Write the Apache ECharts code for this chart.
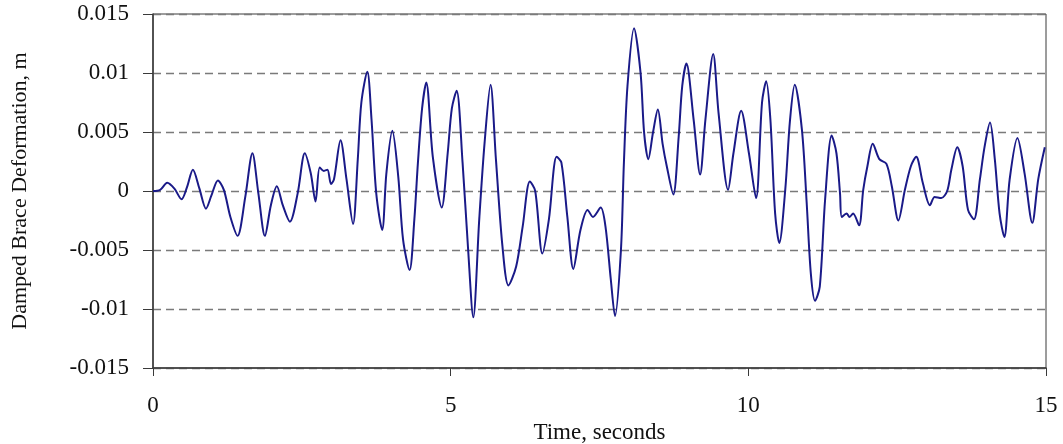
<!DOCTYPE html>
<html>
<head>
<meta charset="utf-8">
<script src="https://cdn.jsdelivr.net/npm/echarts@6/dist/echarts.min.js"></script>
<style>
  html, body { margin: 0; padding: 0; background: #fff; }
  #chart { width: 1063px; height: 444px; }
</style>
</head>
<body>
<div id="chart"></div>
<script>
// time (s) and damped brace deformation (m)
const timeSec = [
  0.00, 0.12, 0.24, 0.36, 0.48, 0.57, 0.67, 0.78, 0.89, 0.98,
  1.09, 1.19, 1.30, 1.42, 1.55, 1.67, 1.77, 1.88, 1.98, 2.08,
  2.18, 2.30, 2.43, 2.55, 2.65, 2.73, 2.80, 2.87, 2.93, 2.99,
  3.04, 3.15, 3.25, 3.36, 3.44, 3.50, 3.60, 3.67, 3.75, 3.85,
  3.92, 4.02, 4.12, 4.20, 4.31, 4.39, 4.45, 4.52, 4.59, 4.70,
  4.85, 4.95, 5.02, 5.10, 5.20, 5.29, 5.38, 5.48, 5.57, 5.67,
  5.76, 5.87, 5.97, 6.10, 6.21, 6.33, 6.42, 6.54, 6.65, 6.78,
  6.86, 6.96, 7.06, 7.18, 7.30, 7.39, 7.52, 7.60, 7.69, 7.76,
  7.86, 7.91, 7.97, 8.08, 8.19, 8.25, 8.32, 8.40, 8.48, 8.56,
  8.63, 8.74, 8.83, 8.89, 8.96, 9.08, 9.19, 9.28, 9.41, 9.50,
  9.66, 9.75, 9.88, 10.01, 10.13, 10.23, 10.30, 10.37, 10.45, 10.52,
  10.62, 10.70, 10.78, 10.90, 10.98, 11.05, 11.12, 11.20, 11.29, 11.40,
  11.48, 11.54, 11.57, 11.65, 11.70, 11.76, 11.86, 11.93, 12.00, 12.09,
  12.20, 12.32, 12.41, 12.52, 12.63, 12.73, 12.82, 12.93, 13.05, 13.13,
  13.24, 13.34, 13.41, 13.51, 13.60, 13.69, 13.79, 13.89, 13.97, 14.06,
  14.14, 14.22, 14.30, 14.39, 14.52, 14.64, 14.77, 14.87, 14.98
]
const deformation = [
  0, 0.0001, 0.0007, 0.0002, -0.0007, 0.0003, 0.0018, 0.0002, -0.0015, -0.0004,
  0.0009, 0.0001, -0.0022, -0.0038, -0.0005, 0.0032, -0.0002, -0.0038, -0.0012, 0.0004,
  -0.0012, -0.0026, -0.0002, 0.0032, 0.0015, -0.0009, 0.0020, 0.0017, 0.0018, 0.0006,
  0.0010, 0.0043, 0.0010, -0.0028, 0.0027, 0.0075, 0.0101, 0.0061, -0.0002, -0.0033,
  0.0015, 0.0051, 0.0012, -0.0041, -0.0067, -0.0024, 0.0024, 0.0070, 0.0092, 0.0029,
  -0.0014, 0.0032, 0.0070, 0.0085, 0.0024, -0.0047, -0.0107, -0.0024, 0.0041, 0.0090,
  0.0027, -0.0047, -0.0080, -0.0064, -0.0030, 0.0008, 0.0000, -0.0053, -0.0024, 0.0029,
  0.0024, -0.0022, -0.0066, -0.0033, -0.0016, -0.0022, -0.0014, -0.0030, -0.0075, -0.0106,
  -0.0050, 0.0024, 0.0089, 0.0138, 0.0100, 0.0049, 0.0027, 0.0050, 0.0069, 0.0040,
  0.0021, -0.0003, 0.0046, 0.0089, 0.0108, 0.0061, 0.0014, 0.0061, 0.0116, 0.0066,
  0.0001, 0.0032, 0.0068, 0.0032, -0.0006, 0.0075, 0.0093, 0.0061, -0.0019, -0.0044,
  0.0001, 0.0060, 0.0090, 0.0052, -0.0010, -0.0070, -0.0093, -0.0081, -0.0007, 0.0047,
  0.0032, -0.0002, -0.0022, -0.0019, -0.0022, -0.0019, -0.0029, 0.0001, 0.0021, 0.0040,
  0.0027, 0.0023, 0.0004, -0.0025, 0.0001, 0.0021, 0.0029, 0.0007, -0.0012, -0.0005,
  -0.0006, 0.0000, 0.0018, 0.0037, 0.0021, -0.0016, -0.0024, 0.0010, 0.0038, 0.0058,
  0.0027, -0.0019, -0.0039, 0.0010, 0.0045, 0.0015, -0.0027, 0.0010, 0.0037
]

const font = 'Liberation Serif'
const axisColor = '#3a3a3a'

const chart = echarts.init(document.getElementById('chart'))
chart.setOption({
  animation: false,
  grid: {
    left: 153,
    right: 17,
    top: 14,
    bottom: 76,
    outerBoundsMode: 'none',
    containLabel: false,
    show: true,
    borderColor: axisColor,
    borderWidth: 1
  },
  xAxis: {
    type: 'value',
    min: 0,
    max: 15,
    interval: 5,
    name: 'Time, seconds',
    nameLocation: 'middle',
    nameGap: 52,
    nameTextStyle: { fontFamily: font, fontSize: 23, color: '#111' },
    axisLine: { onZero: false, lineStyle: { color: axisColor, width: 1.5 } },
    axisTick: { inside: false, length: 8, lineStyle: { color: axisColor } },
    axisLabel: { margin: 26, fontFamily: font, fontSize: 23, color: '#111' },
    splitLine: { show: false }
  },
  yAxis: {
    type: 'value',
    min: -0.015,
    max: 0.015,
    interval: 0.005,
    name: 'Damped Brace Deformation, m',
    nameLocation: 'middle',
    nameGap: 122,
    nameTextStyle: { fontFamily: font, fontSize: 22, color: '#111' },
    axisLine: { show: true, onZero: false, lineStyle: { color: axisColor, width: 1.5 } },
    axisTick: { show: true, inside: false, length: 10, lineStyle: { color: axisColor } },
    axisLabel: {
      margin: 24,
      fontFamily: font,
      fontSize: 23,
      color: '#111',
      formatter: v => String(+v.toFixed(3))
    },
    splitLine: { show: true, lineStyle: { color: '#7a7a7a', type: [8, 5], width: 1.3 } }
  },
  series: [
    {
      type: 'line',
      data: timeSec.map((t, i) => [t, deformation[i]]),
      showSymbol: false,
      smooth: 0.3,
      lineStyle: { color: '#1a1a88', width: 2 }
    }
  ]
})
</script>
</body>
</html>
